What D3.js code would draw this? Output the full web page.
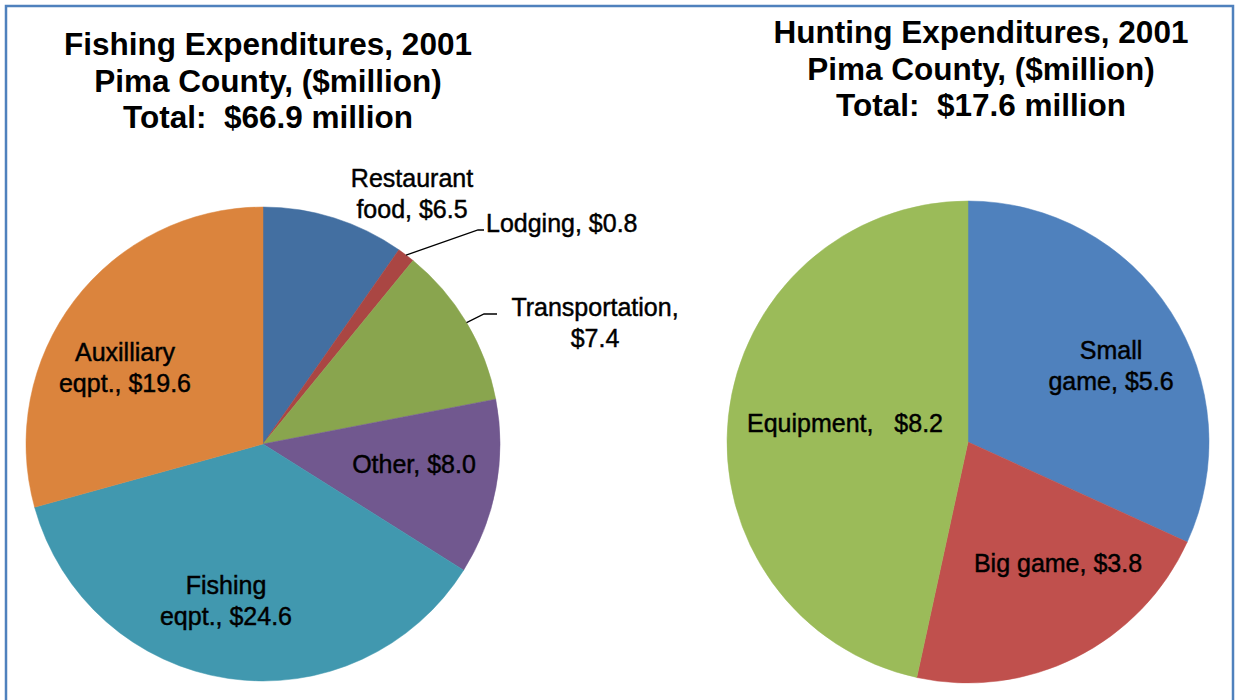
<!DOCTYPE html>
<html>
<head>
<meta charset="utf-8">
<script src="https://cdn.jsdelivr.net/npm/d3@7"></script>
<style>
  html, body { margin: 0; padding: 0; background: #fff; }
  svg { display: block; font-family: "Liberation Sans", Arial, sans-serif; }
</style>
</head>
<body>
<svg id="chart" width="1238" height="700"></svg>
<script>
// ---- Data ----
const fishingCategories = ["Restaurant food", "Lodging", "Transportation", "Other", "Fishing eqpt.", "Auxilliary eqpt."];
const fishingValues = [6.5, 0.8, 7.4, 8.0, 24.6, 19.6];
const fishingColors = ["#436FA1", "#AA4643", "#89A54E", "#71588F", "#4198AF", "#DB843D"];
const fishingTitle = ["Fishing Expenditures, 2001", "Pima County, ($million)", "Total:\u00A0 $66.9 million"];
const fishingLabels = [
  ["Restaurant", "food, $6.5"],
  ["Lodging, $0.8"],
  ["Transportation,", "$7.4"],
  ["Other, $8.0"],
  ["Fishing", "eqpt., $24.6"],
  ["Auxilliary", "eqpt., $19.6"]
];

const huntingCategories = ["Small game", "Big game", "Equipment"];
const huntingValues = [5.6, 3.8, 8.2];
const huntingColors = ["#4F81BD", "#C0504D", "#9BBB59"];
const huntingTitle = ["Hunting Expenditures, 2001", "Pima County, ($million)", "Total:\u00A0 $17.6 million"];
const huntingLabels = [
  ["Small", "game, $5.6"],
  ["Big game, $3.8"],
  ["Equipment,\u00A0\u00A0 $8.2"]
];

// ---- Layout ----
const svg = d3.select("#chart");

svg.append("rect")
  .attr("x", 6).attr("y", 6)
  .attr("width", 1227).attr("height", 720)
  .attr("fill", "none")
  .attr("stroke", "#4F81BD")
  .attr("stroke-width", 2.5);

function drawPie(cfg) {
  const g = svg.append("g").attr("transform", `translate(${cfg.cx},${cfg.cy})`);
  const pie = d3.pie().sort(null).value(d => d.v);
  const data = cfg.values.map((v, i) => ({ v, i, name: cfg.categories[i] }));
  const arcs = pie(data);
  const arc = d3.arc().innerRadius(0).outerRadius(cfg.r);

  g.selectAll("path.slice").data(arcs).join("path")
    .attr("class", "slice")
    .attr("d", arc)
    .attr("fill", d => cfg.colors[d.data.i])
    .attr("stroke", d => cfg.colors[d.data.i])
    .attr("stroke-width", 0.5);

  // title
  const t = svg.append("text")
    .attr("x", cfg.titleX)
    .attr("text-anchor", "middle")
    .attr("font-size", 31.5)
    .attr("font-weight", "bold")
    .attr("fill", "#000");
  cfg.title.forEach((line, k) => {
    t.append("tspan").attr("x", cfg.titleX).attr("y", cfg.titleY + k * 36.5).text(line);
  });

  // labels
  arcs.forEach((a, i) => {
    const L = cfg.labelPos[i];
    const txt = svg.append("text")
      .attr("text-anchor", L.anchor || "middle")
      .attr("font-size", 25)
      .attr("fill", "#000")
      .attr("stroke", "#000")
      .attr("stroke-width", 0.45);
    cfg.labels[i].forEach((line, k) => {
      txt.append("tspan").attr("x", L.x).attr("y", L.y + k * 30.5).text(line);
    });
    if (L.leader) {
      const mid = (a.startAngle + a.endAngle) / 2;
      const ex = cfg.cx + cfg.r * Math.sin(mid);
      const ey = cfg.cy - cfg.r * Math.cos(mid);
      svg.append("polyline")
        .attr("points", [[ex, ey], [L.leader[0], L.leader[1]], [L.leader[2], L.leader[1]]].map(p => p.join(",")).join(" "))
        .attr("fill", "none")
        .attr("stroke", "#000")
        .attr("stroke-width", 1.3);
    }
  });
}

drawPie({
  cx: 263, cy: 444, r: 237,
  categories: fishingCategories, values: fishingValues, colors: fishingColors,
  title: fishingTitle, titleX: 268, titleY: 55,
  labels: fishingLabels,
  labelPos: [
    { x: 412, y: 187 },
    { x: 486, y: 232, anchor: "start", leader: [478, 230, 484] },
    { x: 595, y: 316, leader: [484, 314, 497] },
    { x: 414, y: 473 },
    { x: 226, y: 594 },
    { x: 125, y: 361 }
  ]
});

drawPie({
  cx: 968, cy: 442, r: 241,
  categories: huntingCategories, values: huntingValues, colors: huntingColors,
  title: huntingTitle, titleX: 981, titleY: 43,
  labels: huntingLabels,
  labelPos: [
    { x: 1111, y: 359 },
    { x: 1058, y: 572 },
    { x: 845, y: 432 }
  ]
});
</script>
</body>
</html>
